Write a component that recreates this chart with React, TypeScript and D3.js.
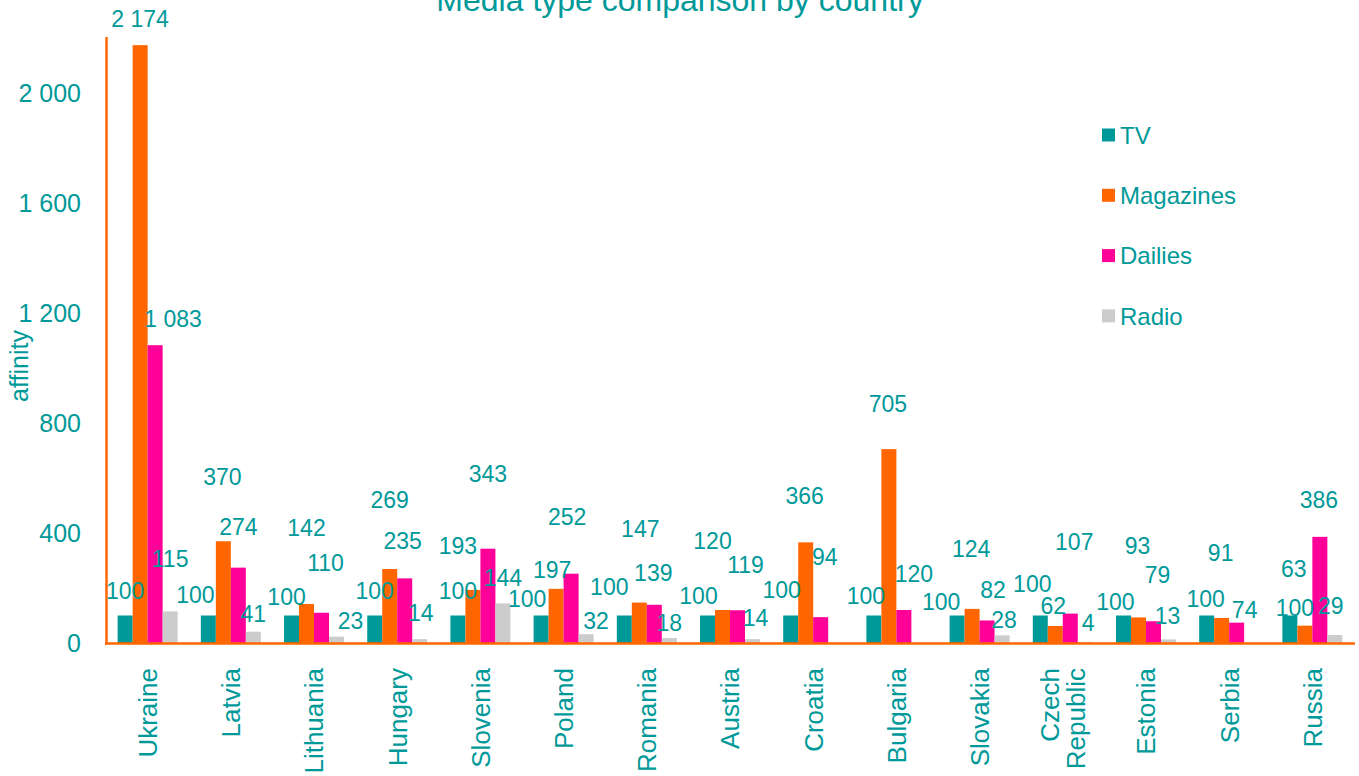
import { useRef, useEffect } from "react";
import * as d3 from "d3";

const countries = [
  "Ukraine", "Latvia", "Lithuania", "Hungary", "Slovenia", "Poland", "Romania", "Austria",
  "Croatia", "Bulgaria", "Slovakia", "Czech Republic", "Estonia", "Serbia", "Russia",
];
const seriesNames = ["TV", "Magazines", "Dailies", "Radio"];
const tv = [100, 100, 100, 100, 100, 100, 100, 100, 100, 100, 100, 100, 100, 100, 100];
const magazines = [2174, 370, 142, 269, 193, 197, 147, 120, 366, 705, 124, 62, 93, 91, 63];
const dailies = [1083, 274, 110, 235, 343, 252, 139, 119, 94, 120, 82, 107, 79, 74, 386];
const radio = [115, 41, 23, 14, 144, 32, 18, 14, null, null, 28, 4, 13, null, 29];
const yTicks = [0, 400, 800, 1200, 1600, 2000];

// hand-placed data label nudges (px from bar top centre), as in the original
const nudgeTV = [[0, -25], [-13, -21], [-5, -19], [0, -25], [0, -25], [-14, -17], [-15, -29], [-9, -20], [-9, -26], [-8, -20], [-16, -14], [-8, -32], [-8, -14], [-1, -17], [5, -8]];
const nudgeMag = [[0, -26], [-1, -65], [0, -76], [0, -69], [-15, -44], [-4, -19], [1, -74], [-10, -69], [-1, -47], [-1, -45], [-1, -60], [-2, -20], [-1, -72], [-1, -65], [-11, -57]];
const nudgeDai = [[18, -26], [0, -41], [4, -50], [-2, -38], [0, -75], [-4, -57], [-1, -32], [8, -46], [4, -60], [10, -36], [6, -31], [4, -72], [4, -47], [8, -13], [-1, -37]];
const nudgeRad = [[0, -53], [0, -18], [14, -16], [1, -26], [0, -26], [10, -13], [0, -15], [3, -21], null, null, [2, -16], [3, -19], [-1, -24], null, [-4, -29]];

const colors = ["#009999", "#FF6600", "#FF0099", "#CCCCCC"];
const TEAL = "#009999";
const FONT = "'Liberation Sans', Arial, sans-serif";

export default function App() {
  const ref = useRef<SVGSVGElement>(null);

  useEffect(() => {
    if (!ref.current) return;
    const svg = d3.select(ref.current);
    svg.selectAll("*").remove();

    const W = 1359, H = 776;
    svg.attr("width", W).attr("height", H).attr("viewBox", `0 0 ${W} ${H}`);

    const values = [tv, magazines, dailies, radio];
    const nudges = [nudgeTV, nudgeMag, nudgeDai, nudgeRad];
    const fmt = d3.formatLocale({ decimal: ",", thousands: " ", grouping: [3], currency: ["", ""] }).format(",d");

    const x = d3.scaleBand<string>().domain(countries).range([106, 1354]).paddingInner(0.279).paddingOuter(0.14);
    const xs = d3.scaleBand<number>().domain([0, 1, 2, 3]).range([0, x.bandwidth()]);
    const y = d3.scaleLinear().domain([0, 2200]).range([643, 38]);

    // title (cut off at the top in the original)
    svg.append("text")
      .attr("x", 680).attr("y", 11)
      .attr("text-anchor", "middle")
      .attr("font-family", FONT).attr("font-size", 32)
      .attr("fill", TEAL)
      .text("Media type comparison by country");

    // bars
    values.forEach((vals, s) => {
      svg.append("g").selectAll("rect")
        .data(vals.map((v, i) => ({ v, i })).filter((d) => d.v != null))
        .join("rect")
        .attr("x", (d) => x(countries[d.i])! + xs(s)!)
        .attr("width", xs.bandwidth())
        .attr("y", (d) => y(d.v as number))
        .attr("height", (d) => y(0) - y(d.v as number))
        .attr("fill", colors[s]);
    });

    // axes lines
    svg.append("line")
      .attr("x1", 106.5).attr("x2", 106.5).attr("y1", y.range()[1] - 1).attr("y2", y(0) + 1.5)
      .attr("stroke", "#FF6600").attr("stroke-width", 2.5);
    svg.append("line")
      .attr("x1", 105).attr("x2", 1355).attr("y1", y(0) + 0.5).attr("y2", y(0) + 0.5)
      .attr("stroke", "#FF6600").attr("stroke-width", 2.5);

    // y tick labels
    svg.append("g").selectAll("text")
      .data(yTicks)
      .join("text")
      .attr("x", 81).attr("y", (d) => y(d))
      .attr("dy", "0.36em")
      .attr("text-anchor", "end")
      .attr("font-family", FONT).attr("font-size", 25)
      .attr("fill", TEAL)
      .text((d) => fmt(d));

    // y axis title
    svg.append("text")
      .attr("transform", `translate(28,366) rotate(-90)`)
      .attr("text-anchor", "middle")
      .attr("font-family", FONT).attr("font-size", 25)
      .attr("fill", TEAL)
      .text("affinity");

    // category labels
    const cat = svg.append("g").selectAll("text")
      .data(countries)
      .join("text")
      .attr("transform", (d) => `translate(${x(d)! + x.bandwidth() / 2},668) rotate(-90)`)
      .attr("text-anchor", "end")
      .attr("font-family", FONT).attr("font-size", 26)
      .attr("fill", TEAL);
    cat.each(function (d) {
      const words = d.split(" ");
      const t = d3.select(this);
      const first = -(words.length - 1) * 0.5 + 0.36;
      words.forEach((w, k) => {
        t.append("tspan")
          .attr("x", 0)
          .attr("dy", k === 0 ? `${first}em` : "1em")
          .text(w);
      });
    });

    // data labels
    values.forEach((vals, s) => {
      svg.append("g").selectAll("text")
        .data(vals.map((v, i) => ({ v, i })).filter((d) => d.v != null && nudges[s][d.i]))
        .join("text")
        .attr("x", (d) => x(countries[d.i])! + xs(s)! + xs.bandwidth() / 2 + nudges[s][d.i]![0])
        .attr("y", (d) => y(d.v as number) + nudges[s][d.i]![1])
        .attr("dy", "0.36em")
        .attr("text-anchor", "middle")
        .attr("font-family", FONT).attr("font-size", 23)
        .attr("fill", TEAL)
        .text((d) => fmt(d.v as number));
    });

    // legend
    const lg = svg.append("g").selectAll("g")
      .data(seriesNames)
      .join("g")
      .attr("transform", (_, i) => `translate(1102,${135 + i * 60.3})`);
    lg.append("rect")
      .attr("x", 0).attr("y", -6.5).attr("width", 13).attr("height", 13)
      .attr("fill", (_, i) => colors[i]);
    lg.append("text")
      .attr("x", 18).attr("dy", "0.36em")
      .attr("font-family", FONT).attr("font-size", 24)
      .attr("fill", TEAL)
      .text((d) => d);
  }, []);

  return <svg ref={ref} style={{ display: "block", position: "absolute", left: 0, top: 0 }} />;
}
